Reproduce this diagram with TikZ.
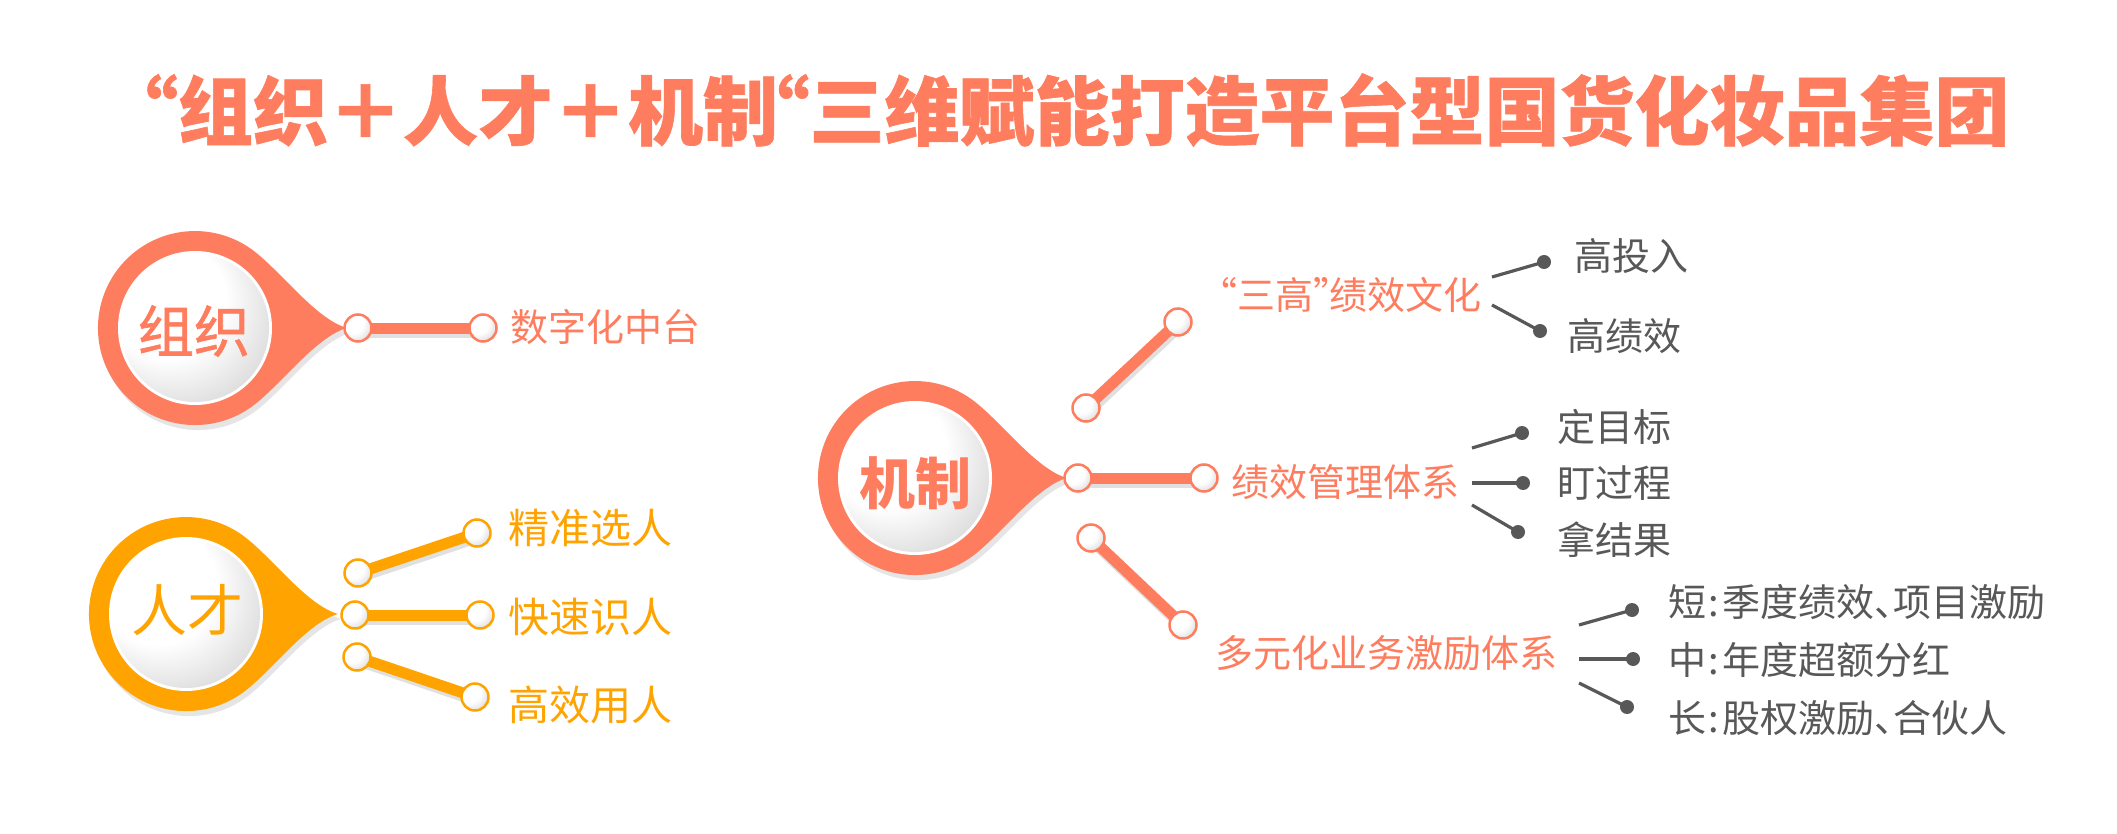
\documentclass[tikz,border=0pt]{standalone}
\usepackage{fontspec}
\newfontfamily\cjk{Noto Sans CJK SC}
\newfontfamily\cjkm[FakeBold=1.2]{Noto Sans CJK SC}
\newfontfamily\cjkt[BoldFeatures={FakeBold=0.8}]{Noto Sans CJK SC}
\usetikzlibrary{calc}
\definecolor{salmon}{RGB}{255,125,95}
\definecolor{amber}{RGB}{255,163,0}
\definecolor{dgray}{RGB}{88,88,88}
\pgfdeclareradialshading{knob}{\pgfpoint{-16bp}{16bp}}{color(0bp)=(white); color(20bp)=(white); color(36bp)=(black!16); color(50bp)=(black!48)}
\pgfdeclarelayer{back}
\pgfdeclarelayer{bars}
\pgfsetlayers{back,bars,main}
\newcommand\qo{\makebox[0.42em][r]{“}}
\newcommand\qc{\makebox[0.42em][l]{”}}
\newcommand\dun{\makebox[0.5em][l]{、}}
\newcommand\colo{\makebox[0.42em][c]{:}}
\tikzset{
 pics/drop/.style={code={
   \fill[black!10, shift={(3,5)}] (152,0) .. controls (120,9) and (84,59.5) .. (55.6,79.5) arc[start angle=55,end angle=305,radius=97] .. controls (84,-59.5) and (120,-9) .. cycle;
   \fill[#1] (152,0) .. controls (120,9) and (84,59.5) .. (55.6,79.5) arc[start angle=55,end angle=305,radius=97] .. controls (84,-59.5) and (120,-9) .. cycle;
   \fill[white] (0,0) circle[radius=77];
   \shade[shading=knob] (0,0) circle[radius=74];
 }},
 knob/.style={circle, inner sep=0pt, minimum size=27pt, line width=2.5pt, draw=#1, shade, shading=knob},
 bar/.style={line width=11pt, draw=#1},
 barshadow/.style={line width=11pt, draw=black!12, transform canvas={shift={(2pt,-4pt)}}},
 lbl/.style={anchor=west, inner sep=0pt, font=\cjk\fontsize{38}{44}\selectfont},
 glbl/.style={anchor=west, inner sep=0pt, text=dgray, font=\cjk\fontsize{38}{44}\selectfont},
 dotn/.style={circle, inner sep=0pt, minimum size=14pt, fill=dgray},
 gline/.style={line width=3.2pt, draw=dgray},
 center label/.style={inner sep=0pt, font=\cjk\fontsize{56}{60}\selectfont},
}
\begin{document}
\begin{tikzpicture}[x=1pt,y=-1pt]
\useasboundingbox (0,0) rectangle (2117,834);
\begin{pgfonlayer}{back}
\fill[white] (0,0) rectangle (2117,834);
\end{pgfonlayer}

% title
\node[inner sep=0pt, text=salmon, font=\cjkt\bfseries\fontsize{75}{80}\selectfont] (title) at (1078,110)
  {\qo 组织＋人才＋机制\qo 三维赋能打造平台型国货化妆品集团};

% ---------- 组织 ----------
\pic at (195,328) {drop=salmon};
\node[center label, font=\cjkm\fontsize{56}{60}\selectfont, text=salmon] (zz) at (194,331) {组织};
\node[knob=salmon] (za) at (358,328) {};
\node[knob=salmon] (zb) at (483,328) {};
\node[lbl, text=salmon] (zt) at (510,327) {数字化中台};

% ---------- 人才 ----------
\pic at (186,614) {drop=amber};
\node[center label, text=amber] (rr) at (187,610) {人才};
\node[knob=amber] (ra) at (355,615) {};
\node[knob=amber] (rb) at (358,573) {};
\node[knob=amber] (rc) at (357,657) {};
\node[knob=amber] (rd) at (477,533) {};
\node[knob=amber] (re) at (480,615) {};
\node[knob=amber] (rf) at (475,697) {};
\node[lbl, text=amber, font=\cjk\fontsize{41}{46}\selectfont] (rt1) at (508,528) {精准选人};
\node[lbl, text=amber, font=\cjk\fontsize{41}{46}\selectfont] (rt2) at (508,617) {快速识人};
\node[lbl, text=amber, font=\cjk\fontsize{41}{46}\selectfont] (rt3) at (508,705) {高效用人};

% ---------- 机制 ----------
\pic at (915,478) {drop=salmon};
\node[center label, font=\cjk\bfseries\fontsize{56}{60}\selectfont, text=salmon] (jz) at (915,483) {机制};
\node[knob=salmon] (ma) at (1078,478) {};
\node[knob=salmon] (mb) at (1204,478) {};
\node[knob=salmon] (mc) at (1086,408) {};
\node[knob=salmon] (md) at (1178,322) {};
\node[knob=salmon] (me) at (1091,538) {};
\node[knob=salmon] (mf) at (1183,625) {};
\node[lbl, text=salmon] (mt1) at (1221,295) {\qo 三高\qc 绩效文化};
\node[lbl, text=salmon] (mt2) at (1231,482) {绩效管理体系};
\node[lbl, text=salmon] (mt3) at (1215,653) {多元化业务激励体系};

% gray leaves
\node[glbl] (g1) at (1574,256) {高投入};
\node[glbl] (g2) at (1567,336) {高绩效};
\node[glbl] (g3) at (1557,427) {定目标};
\node[glbl] (g4) at (1557,483) {盯过程};
\node[glbl] (g5) at (1557,540) {拿结果};
\node[glbl] (g6) at (1668,602) {短\colo 季度绩效\dun 项目激励};
\node[glbl] (g7) at (1668,660) {中\colo 年度超额分红};
\node[glbl] (g8) at (1668,718) {长\colo 股权激励\dun 合伙人};

\node[dotn] (d1) at (1544,262) {};
\node[dotn] (d2) at (1540,331) {};
\node[dotn] (d3) at (1522,433) {};
\node[dotn] (d4) at (1523,483) {};
\node[dotn] (d5) at (1518,532) {};
\node[dotn] (d6) at (1632,610) {};
\node[dotn] (d7) at (1633,659) {};
\node[dotn] (d8) at (1627,707) {};

\coordinate (s1) at (1492,277);
\coordinate (s2) at (1492,305);
\coordinate (s3) at (1472,448);
\coordinate (s4) at (1472,483);
\coordinate (s5) at (1472,505);
\coordinate (s6) at (1579,625);
\coordinate (s7) at (1579,659);
\coordinate (s8) at (1579,683);

\foreach \i in {1,...,8} { \draw[gline] (s\i) -- (d\i.center); }

\begin{pgfonlayer}{bars}
\foreach \a/\b/\c in {za/zb/salmon, ra/re/amber, rb/rd/amber, rc/rf/amber, ma/mb/salmon, mc/md/salmon, me/mf/salmon} {
  \draw[barshadow] (\a.center) -- (\b.center);
  \draw[bar=\c] (\a.center) -- (\b.center);
}
\end{pgfonlayer}
\end{tikzpicture}
\end{document}
